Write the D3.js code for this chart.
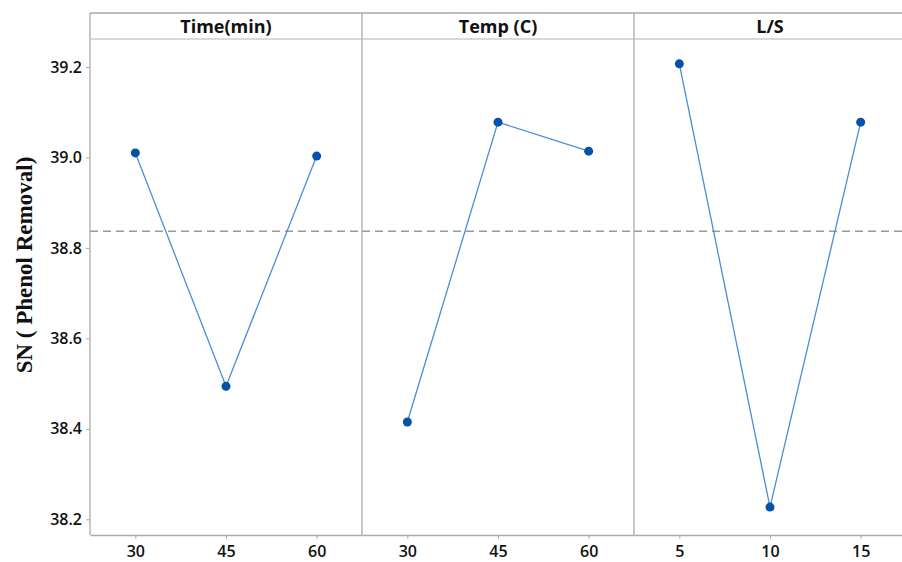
<!DOCTYPE html>
<html>
<head>
<meta charset="utf-8">
<script src="https://cdn.jsdelivr.net/npm/d3@7"></script>
<style>
  body { margin: 0; background: #fff; }
  svg { display: block; }
</style>
</head>
<body>
<div id="chart"></div>
<script>
// main effects for SN ratios
const factors = ['Time(min)', 'Temp (C)', 'L/S'];
const levels = [['30', '45', '60'], ['30', '45', '60'], ['5', '10', '15']];
const snValues = [
  [39.010, 38.494, 39.003],
  [38.415, 39.078, 39.014],
  [39.207, 38.227, 39.078]
];
const grandMean = 38.837;
const yTicks = [38.2, 38.4, 38.6, 38.8, 39.0, 39.2];

const width = 902, height = 562;
const plotLeft = 90, plotTop = 13, stripH = 26, plotBottom = 535;
const panelW = 272;

const svg = d3.select('#chart').append('svg')
  .attr('width', width)
  .attr('height', height);

const y = d3.scaleLinear()
  .domain([38.2, 39.2])
  .range([519.3, 67]);

// y axis
const yAxis = svg.append('g')
  .attr('transform', `translate(${plotLeft},0)`)
  .call(d3.axisLeft(y).tickValues(yTicks).tickFormat(d3.format('.1f')).tickSize(4).tickPadding(4));
yAxis.select('.domain').remove();
yAxis.selectAll('line').attr('stroke', '#aaa');
yAxis.selectAll('text')
  .style('font', '600 16px "Open Sans", sans-serif')
  .attr('fill', '#111');

svg.append('text')
  .attr('transform', `translate(32,265) rotate(-90)`)
  .attr('text-anchor', 'middle')
  .style('font', 'bold 23px "Liberation Serif", serif')
  .attr('fill', '#111')
  .text('SN ( Phenol Removal)');

factors.forEach((f, i) => {
  const x0 = plotLeft + i * panelW;
  const x = d3.scalePoint()
    .domain(levels[i])
    .range([x0, x0 + panelW])
    .padding(0.5);

  const g = svg.append('g');

  // panel frame
  g.append('line')
    .attr('x1', x0).attr('x2', x0)
    .attr('y1', plotTop).attr('y2', plotBottom)
    .attr('stroke', '#aaa').attr('stroke-width', 1.3);

  // strip
  g.append('line')
    .attr('x1', x0).attr('x2', x0 + panelW)
    .attr('y1', plotTop).attr('y2', plotTop)
    .attr('stroke', '#aaa').attr('stroke-width', 1.3);
  g.append('line')
    .attr('x1', x0).attr('x2', x0 + panelW)
    .attr('y1', plotTop + stripH).attr('y2', plotTop + stripH)
    .attr('stroke', '#ccc').attr('stroke-width', 1.3);
  g.append('text')
    .attr('x', x0 + panelW / 2)
    .attr('y', plotTop + 20)
    .attr('text-anchor', 'middle')
    .style('font', 'bold 18px "Open Sans", sans-serif')
    .attr('fill', '#111')
    .text(f);

  // x axis
  const xAxis = g.append('g')
    .attr('transform', `translate(0,${plotBottom})`)
    .call(d3.axisBottom(x).tickSize(4).tickPadding(7).tickSizeOuter(0));
  xAxis.select('.domain').attr('stroke', '#aaa').attr('stroke-width', 1.3);
  xAxis.selectAll('line').attr('stroke', '#aaa');
  xAxis.selectAll('text')
    .style('font', '600 16px "Open Sans", sans-serif')
    .attr('fill', '#111');

  // mean reference line
  g.append('line')
    .attr('x1', x0).attr('x2', x0 + panelW)
    .attr('y1', y(grandMean)).attr('y2', y(grandMean))
    .attr('stroke', '#999')
    .attr('stroke-width', 1.5)
    .attr('stroke-dasharray', '8,5');

  const pts = levels[i].map((l, j) => ({ l, v: snValues[i][j] }));

  g.append('path')
    .datum(pts)
    .attr('fill', 'none')
    .attr('stroke', '#4a8ed6')
    .attr('stroke-width', 1.3)
    .attr('d', d3.line().x(d => x(d.l)).y(d => y(d.v)));

  g.selectAll('circle')
    .data(pts)
    .join('circle')
    .attr('cx', d => x(d.l))
    .attr('cy', d => y(d.v))
    .attr('r', 4.5)
    .attr('fill', '#0652a8');
});
</script>
</body>
</html>
